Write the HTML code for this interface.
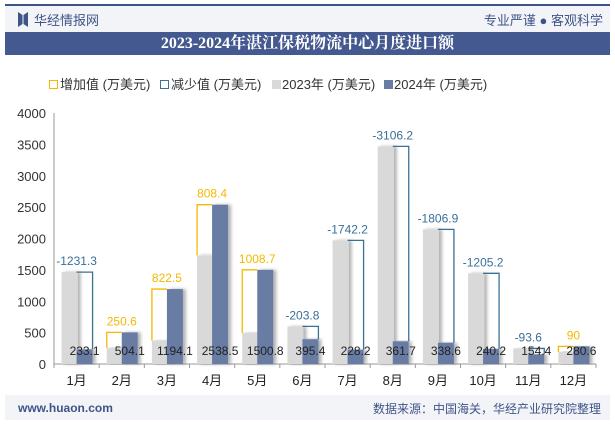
<!DOCTYPE html>
<html><head><meta charset="utf-8"><style>
body{margin:0;width:615px;height:427px;background:#fff;font-family:"Liberation Sans","Noto Sans CJK SC",sans-serif;overflow:hidden;position:relative}
.abs{position:absolute}
.lg{position:absolute;top:74px;font-size:13px;color:#333;white-space:nowrap}
</style></head><body>
<div class="abs" style="left:5px;top:4px;width:605px;height:2px;background:#3e5488"></div>
<div class="abs" style="left:5px;top:6px;width:605px;height:26px;background:#f3f4f8"></div>
<div class="abs" style="left:18px;top:12px;width:10px;height:15px;background:#3e5488;clip-path:polygon(0 0,45% 20%,45% 80%,0 100%,0 0,100% 0,100% 100%,55% 80%,55% 20%,100% 0)"></div>
<div class="abs" style="left:34px;top:10px;font-size:13px;color:#3e5488">华经情报网</div>
<div class="abs" style="right:12px;top:10px;font-size:13px;color:#3e5488">专业严谨 ● 客观科学</div>
<div class="abs" style="left:5px;top:32px;width:605px;height:23px;background:#44598f;color:#fff;font-weight:bold;font-size:16px;text-align:center;line-height:23px;font-family:'Liberation Serif','Noto Serif CJK SC',serif">2023-2024年湛江保税物流中心月度进口额</div>
<div class="lg" style="left:49px"><span style="display:inline-block;width:7px;height:7px;border:1px solid #f5b800;margin-right:2px"></span>增加值 (万美元)</div>
<div class="lg" style="left:160px"><span style="display:inline-block;width:7px;height:7px;border:1px solid #3a6f96;margin-right:2px"></span>减少值 (万美元)</div>
<div class="lg" style="left:272px"><span style="display:inline-block;width:9px;height:9px;background:#d9d9d9;margin-right:1px"></span>2023年 (万美元)</div>
<div class="lg" style="left:384px"><span style="display:inline-block;width:9px;height:9px;background:#687ca4;margin-right:1px"></span>2024年 (万美元)</div>
<svg class="abs" style="left:0;top:0" width="615" height="427" id="chart"></svg>
<div class="abs" style="left:5px;top:395px;width:605px;height:25px;background:#f3f4f8"></div>
<div class="abs" style="left:18px;top:401px;font-size:12px;color:#3e5488;font-weight:bold">www.huaon.com</div>
<div class="abs" style="right:14px;top:400px;font-size:12px;color:#3e5488">数据来源：中国海关，华经产业研究院整理</div>
<script>
const months=["1月","2月","3月","4月","5月","6月","7月","8月","9月","10月","11月","12月"];
const v2023=[1464.4,253.5,371.6,1730.1,492.1,599.2,1970.4,3467.9,2145.5,1445.4,248,190.6];
const v2024=[233.1,504.1,1194.1,2538.5,1500.8,395.4,228.2,361.7,338.6,240.2,154.4,280.6];
const changes=["-1231.3","250.6","822.5","808.4","1008.7","-203.8","-1742.2","-3106.2","-1806.9","-1205.2","-93.6","90"];
const yTicks=[0,500,1000,1500,2000,2500,3000,3500,4000];
const svg=document.getElementById('chart');const NS='http://www.w3.org/2000/svg';
const x0=54,x1=596,bw=(x1-x0)/12;
const y=v=>364-v*(251/4000);
const cx=i=>x0+bw*(i+0.5);
function mk(t,a,p){const e=document.createElementNS(NS,t);for(const k in a)e.setAttribute(k,a[k]);(p||svg).appendChild(e);return e;}
const defs=mk('defs',{});
const f=mk('filter',{id:'sh',x:'-20%',y:'-5%',width:'160%',height:'110%'},defs);
mk('feDropShadow',{dx:'3',dy:'0',stdDeviation:'1.5','flood-color':'#000','flood-opacity':'0.3'},f);
yTicks.forEach(t=>{const e=mk('text',{x:46,y:y(t)+5,'text-anchor':'end','font-size':'13',fill:'#333'});e.textContent=t;

});
const ax=mk('line',{x1:x0,x2:x0,y1:113,y2:364,stroke:'#999'});


const xa=mk('line',{x1:x0,x2:x1,y1:364,y2:364,stroke:'#999'});


for(let i=0;i<=12;i++){mk('line',{x1:x0+bw*i,x2:x0+bw*i,y1:364,y2:368,stroke:'#999'});}
months.forEach((m,i)=>{
 const c=cx(i);
 const g=mk('rect',{x:c-15,y:y(v2023[i]),width:16,height:364-y(v2023[i]),fill:'#d9d9d9',filter:'url(#sh)'});
 
 
 const b=mk('rect',{x:c,y:y(v2024[i]),width:16,height:364-y(v2024[i]),fill:'#687ca4',filter:'url(#sh)'});
 
 
 const inc=v2024[i]>=v2023[i];const col=inc?'#f5b800':'#3a6f96';
 let d;
 if(inc){d=`M${c-15},${y(v2023[i])} V${y(v2024[i])} H${c}`;}
 else{d=`M${c},${y(v2023[i])} H${c+16} V${y(v2024[i])}`;}
 const p=mk('path',{d:d,fill:'none',stroke:col,'stroke-width':1.3});
 
 
 const top=Math.min(y(v2023[i]),y(v2024[i]));
 const cl=mk('text',{x:c,y:top-7,'text-anchor':'middle','font-size':'12',fill:col});cl.textContent=changes[i];
 
 
 const vl=mk('text',{x:c+8,y:355,'text-anchor':'middle','font-size':'12',fill:'#222'});vl.textContent=v2024[i];
 
 
 const ml=mk('text',{x:c,y:385,'text-anchor':'middle','font-size':'13',fill:'#222'});ml.textContent=m;
 
 
});
</script>
</body></html>
